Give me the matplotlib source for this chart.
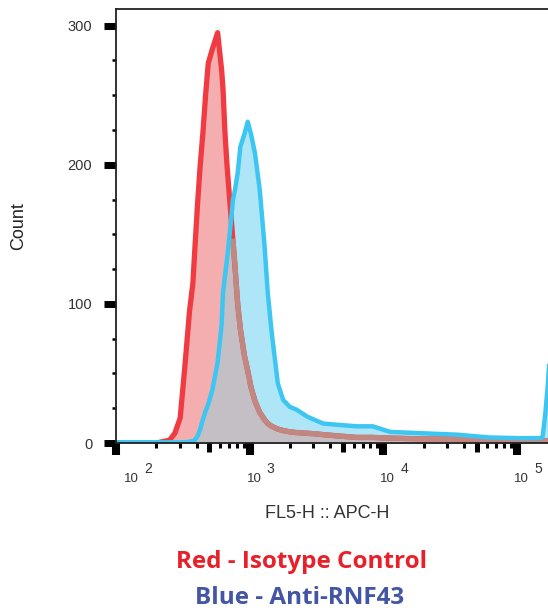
import numpy as np
import matplotlib
matplotlib.use('Agg')
import matplotlib.pyplot as plt
from matplotlib.ticker import LogLocator, MultipleLocator, NullFormatter, NullLocator
import matplotlib.transforms as mtransforms

plt.rcParams['font.family'] = ['Liberation Sans', 'DejaVu Sans']

# log10 of FL5-H
log_x = [2.00, 2.30, 2.35, 2.40, 2.44, 2.48, 2.515, 2.55, 2.575, 2.59, 2.61, 2.63,
         2.65, 2.67, 2.69, 2.72, 2.76, 2.79, 2.80, 2.815, 2.83, 2.85, 2.875, 2.89,
         2.91, 2.93, 2.96, 2.985, 3.01, 3.04, 3.075, 3.11, 3.135, 3.165, 3.21, 3.25,
         3.30, 3.35, 3.43, 3.50, 3.55, 3.67, 3.80, 3.92, 4.05, 4.29, 4.55, 4.79,
         5.02, 5.17, 5.19, 5.21, 5.23, 5.30]
isotype = [0, 0, 1, 2, 7, 18, 55, 95, 115, 140, 172, 200,
           223, 250, 273, 283, 295, 268, 255, 223, 200, 175, 145, 127,
           100, 82, 63, 52, 40, 30, 22, 17, 14, 12, 10, 9,
           8, 7.5, 7, 6.5, 6, 5, 4, 4, 3.5, 3, 3, 2.5,
           2, 1.5, 1.5, 1.5, 1.5, 1.5]
rnf43 = [0.5, 0.5, 0.5, 0.5, 0.5, 0.5, 0.5, 1, 1.5, 2, 5, 10,
         17, 23, 28, 38, 58, 85, 108, 120, 132, 150, 175, 182,
         194, 213, 222, 231, 222, 208, 182, 143, 108, 79, 43, 31,
         26, 24, 19, 16, 14, 13, 12, 12, 8, 7, 6, 4,
         3.5, 3.5, 4, 20, 42, 150]

decades = [2, 3, 4, 5]
yticks = [0, 100, 200, 300]

x = 10 ** np.array(log_x)
red = np.array(isotype, dtype=float)
blue = np.array(rnf43, dtype=float)
both = np.minimum(red, blue)

fig = plt.figure(figsize=(5.48, 6.14), dpi=100)
ax = fig.add_axes([0.2117, 0.2785, 0.8295, 0.7068])

ax.fill_between(x, 0, red, color='#F4AEB0', lw=0)
ax.fill_between(x, 0, blue, color='#AEE5F7', lw=0)
ax.fill_between(x, 0, both, color='#C4BFC4', lw=0)
ax.plot(x, red, color='#EF3B41', lw=3.8, solid_joinstyle='round')
# red line where it sits under the blue fill
ax.plot(x, np.where(red <= blue, red, np.nan), color='#C08880', lw=3.8)
ax.plot(x, blue, color='#3DC6F1', lw=3.2, solid_joinstyle='round')

ax.set_xscale('log')
ax.set_xlim(10 ** 2, 10 ** 5.4)
ax.set_ylim(0, 312)

for s in ['left', 'top', 'bottom']:
    ax.spines[s].set_color('#222222')
    ax.spines[s].set_linewidth(1.3)
ax.spines['right'].set_visible(False)

ax.set_yticks(yticks)
ax.yaxis.set_minor_locator(MultipleLocator(25))
ax.tick_params(axis='y', which='major', length=8.6, width=5, pad=8.5,
               labelsize=10.5, labelcolor='#333333')
ax.tick_params(axis='y', which='minor', length=3, width=1.8)

ax.set_xticks([10 ** d for d in decades])
ax.xaxis.set_major_formatter(NullFormatter())
ax.xaxis.set_minor_locator(LogLocator(base=10, subs=[2, 3, 4, 6, 7, 8, 9]))
ax.xaxis.set_minor_formatter(NullFormatter())
ax.tick_params(axis='x', which='major', length=8.6, width=5.8)
ax.tick_params(axis='x', which='minor', length=3.6, width=2.2)

# medium ticks at 5 x 10^n
ax2 = ax.twiny()
ax2.set_xscale('log')
ax2.set_xlim(ax.get_xlim())
ax2.xaxis.set_ticks_position('bottom')
ax2.set_xticks([5 * 10 ** d for d in decades[:-1]])
ax2.xaxis.set_major_formatter(NullFormatter())
ax2.xaxis.set_minor_locator(NullLocator())
ax2.xaxis.set_minor_formatter(NullFormatter())
ax2.tick_params(axis='x', which='major', length=6.5, width=3.6)
for s in ax2.spines.values():
    s.set_visible(False)

# decade labels: "10" with a raised exponent
for d in decades:
    dx = 8 if d == 2 else -3
    base = ax.get_xaxis_transform() + mtransforms.ScaledTranslation(dx / 100, -39 / 100, fig.dpi_scale_trans)
    ax.text(10 ** d, 0, '10', transform=base, ha='left', va='baseline',
            fontsize=9.5, color='#333333')
    sup = ax.get_xaxis_transform() + mtransforms.ScaledTranslation((dx + 20) / 100, -30 / 100, fig.dpi_scale_trans)
    ax.text(10 ** d, 0, str(d), transform=sup, ha='left', va='baseline',
            fontsize=10, color='#333333')

ax.set_ylabel('Count', fontsize=13, color='#222222')
ax.yaxis.set_label_coords(-0.196, 0.5)
fig.text(327 / 548, 1 - 513 / 614, 'FL5-H :: APC-H', ha='center', va='center',
         fontsize=13, color='#333333')

fig.text(302 / 548, 1 - 562 / 614, 'Red - Isotype Control', ha='center', va='center',
         fontsize=17.5, fontweight='bold', color='#E8202A', family='Open Sans')
fig.text(300 / 548, 1 - 598 / 614, 'Blue - Anti-RNF43', ha='center', va='center',
         fontsize=17.5, fontweight='bold', color='#4355A5', family='Open Sans')

fig.savefig('out.png', dpi=100)
